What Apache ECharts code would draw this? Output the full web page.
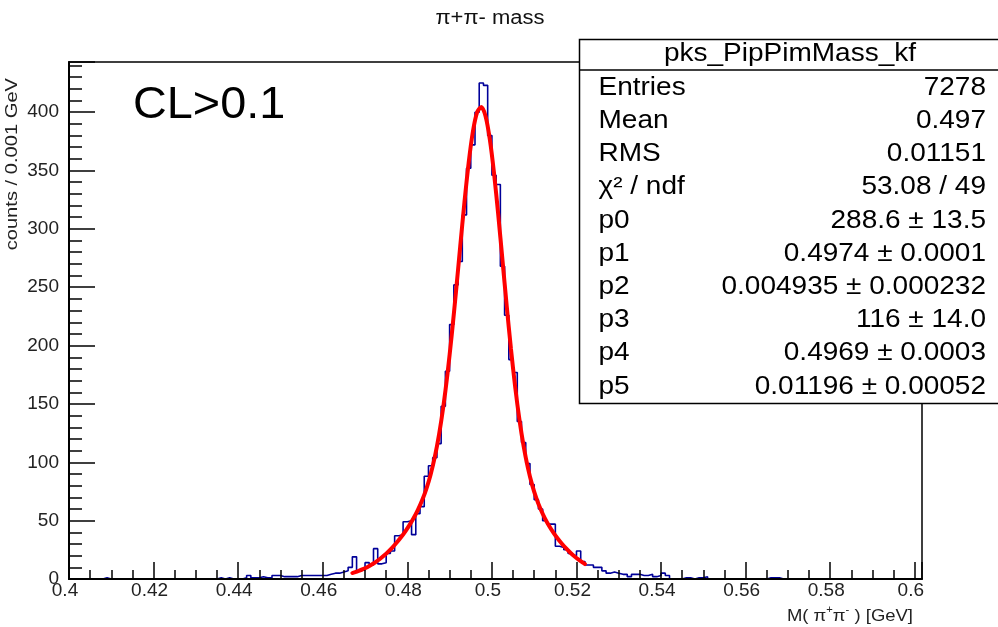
<!DOCTYPE html>
<html><head><meta charset="utf-8">
<script src="https://cdn.jsdelivr.net/npm/echarts@6/dist/echarts.min.js"></script>
<style>html,body{margin:0;padding:0;background:#fff}#c{width:998px;height:627px}</style>
</head><body><div id="c"></div>
<script>
// ---- data ----
const binStart = 0.4;          // GeV, left edge of first bin
const binWidth = 0.001;        // GeV
// histogram counts per 0.001 GeV bin, 0.400 .. 0.600
const counts = [
  0,0,0,0,0,0,0,0,1,0,
  0,0,0,0,0,0,0,0,0,0,
  0,0,0,0,0,0,0,0,0,0,
  0,0,0,0,0,1,0,1,0,0,
  0,1,3,1,1,2,1,1,3,3,
  2,2,2,2,3,3,3,3,3,3,
  3,4,5,5,6,7,10,19,7,8,
  14,12,26,13,14,22,24,37,38,49,
  50,38,56,62,88,97,104,116,148,178,
  218,252,272,312,352,372,400,425,423,380,
  346,338,268,226,188,177,135,117,99,81,
  68,60,50,47,47,28,27,25,22,20,
  24,15,12,12,10,10,7,5,6,5,
  4,4,2,4,4,3,3,4,2,3,
  5,3,0,0,0,1,1,0,1,1,
  2,0,0,0,0,0,0,0,0,0,
  0,0,0,0,0,1,1,1,0,0,
  0,0,0,0,0,0,0,0,0,0,
  0,0,0,0,0,0,0,0,0,0,
  0,0,0,0,0,0,0,0,0,0
];
// fitted curve (red), sampled points
const fitX = [0.467,0.4675,0.4685,0.4695,0.4705,0.4715,0.4725,0.4735,0.4745,0.4755,
  0.4765,0.4775,0.4785,0.4795,0.4805,0.4815,0.4825,0.4835,0.4845,0.4855,
  0.4865,0.4875,0.4885,0.4895,0.4905,0.4915,0.4925,0.4935,0.4945,0.4955,
  0.4965,0.4975,0.4985,0.4995,0.5005,0.5015,0.5025,0.5035,0.5045,0.5055,
  0.5065,0.5075,0.5085,0.5095,0.5105,0.5115,0.5125,0.5135,0.5145,0.5155,
  0.5165,0.5175,0.5185,0.5195,0.5205,0.5215,0.522];
const fitY = [5.10,5.65,6.92,8.41,10.15,12.16,14.48,17.11,20.09,23.42,
  27.12,31.21,35.71,40.65,46.13,52.24,59.21,67.39,77.24,89.41,
  104.65,123.77,147.42,175.93,209.13,245.96,284.71,322.61,356.52,383.21,
  399.78,404.35,396.50,376.89,347.77,312.09,273.14,234.08,197.30,164.62,
  136.78,113.87,95.48,80.88,69.28,59.94,52.22,45.69,40.00,34.97,
  30.45,26.39,22.74,19.46,16.55,13.99,12.83];
const xTickLabels = ['0.4','0.42','0.44','0.46','0.48','0.5','0.52','0.54','0.56','0.58','0.6'];
const yTickLabels = ['0','50','100','150','200','250','300','350','400'];
const statsTitle = 'pks_PipPimMass_kf';
const statsLabels = ['Entries','Mean','RMS','χ² / ndf','p0','p1','p2','p3','p4','p5'];
const statsValues = ['7278','0.497','0.01151','53.08 / 49','288.6 ± 13.5','0.4974 ± 0.0001',
  '0.004935 ± 0.000232','116 ± 14.0','0.4969 ± 0.0003','0.01196 ± 0.00052'];

// ---- build ----
const histPts = counts.map((c, i) => [+(binStart + i * binWidth).toFixed(4), c]);
histPts.push([+(binStart + counts.length * binWidth).toFixed(4), counts[counts.length - 1]]);
const fitPts = fitX.map((x, i) => [x, fitY[i]]);

const FONT = '"Liberation Sans", Arial, sans-serif';
function lab(list) {
  return function (v) {
    for (const s of list) if (Math.abs(parseFloat(s) - v) < 1e-7) return s;
    return '';
  };
}
const graphics = [];
graphics.push({type:'text', x:490, y:18, scaleX:1.1, z:100,
  style:{text:'π+π- mass', x:0, y:0, align:'center', verticalAlign:'middle', font:'20px ' + FONT, fill:'#111'}});
graphics.push({type:'text', x:133, y:106, scaleX:1.04, z:100,
  style:{text:'CL>0.1', x:0, y:0, align:'left', verticalAlign:'middle', font:'45px ' + FONT, fill:'#000'}});
graphics.push({type:'text', x:12, y:78, rotation:Math.PI/2, scaleX:1.22, z:100,
  style:{text:'counts / 0.001 GeV', x:0, y:0, align:'right', verticalAlign:'middle', font:'16.5px ' + FONT, fill:'#222'}});
graphics.push({type:'text', x:913, y:615, scaleX:1.12, z:100,
  style:{text:'{n|M( π}{s|+}{n|π}{s|-}{n| ) [GeV]}', x:0, y:0, align:'right', verticalAlign:'middle',
    rich:{n:{font:'16.5px ' + FONT, fill:'#222', lineHeight:20, verticalAlign:'bottom'},
          s:{font:'10px ' + FONT, fill:'#222', lineHeight:20, verticalAlign:'top'}}}});
// stats box
graphics.push({type:'rect', z:100, shape:{x:579.5, y:39.5, width:440, height:364},
  style:{fill:'#fff', stroke:'#000', lineWidth:1.5}});
graphics.push({type:'line', z:101, shape:{x1:579.5, y1:70, x2:998, y2:70},
  style:{stroke:'#000', lineWidth:1.5}});
graphics.push({type:'text', x:790, y:54, scaleX:1.12, z:102,
  style:{text:statsTitle, x:0, y:0, align:'center', verticalAlign:'middle', font:'25px ' + FONT, fill:'#000'}});
statsLabels.forEach((t, i) => {
  const y = 88 + i * 33.2;
  graphics.push({type:'text', x:598.5, y:y, scaleX:1.12, z:102,
    style:{text:t, x:0, y:0, align:'left', verticalAlign:'middle', font:'25px ' + FONT, fill:'#000'}});
  graphics.push({type:'text', x:986, y:y, scaleX:1.12, z:102,
    style:{text:statsValues[i], x:0, y:0, align:'right', verticalAlign:'middle', font:'25px ' + FONT, fill:'#000'}});
});

const chart = echarts.init(document.getElementById('c'), null, {renderer:'canvas'});
const axisLabelStyle = {fontFamily:'"Liberation Sans", Arial, sans-serif', fontSize:19, color:'#222'};
chart.setOption({
  animation:false,
  backgroundColor:'#fff',
  grid:{left:69, top:62, width:853, height:517, show:true, borderColor:'#000', borderWidth:1.5, backgroundColor:'transparent'},
  xAxis:[
    {type:'value', min:0.4, max:0.6017, interval:0.02, position:'bottom', z:10,
     axisLine:{show:true, lineStyle:{color:'#000', width:2}},
     axisTick:{show:true, inside:true, length:17, lineStyle:{color:'#000', width:1.5}},
     axisLabel:Object.assign({show:true, margin:2, padding:[0,8,0,0], formatter:lab(xTickLabels)}, axisLabelStyle),
     splitLine:{show:false}},
    {type:'value', min:0.4, max:0.6017, interval:0.005, position:'bottom', z:10,
     axisLine:{show:false},
     axisTick:{show:true, inside:true, length:9, lineStyle:{color:'#000', width:1.5}},
     axisLabel:{show:false}, splitLine:{show:false}}
  ],
  yAxis:[
    {type:'value', min:0, max:443, interval:50, position:'left', z:10,
     axisLine:{show:true, lineStyle:{color:'#000', width:2}},
     axisTick:{show:true, inside:true, length:26, lineStyle:{color:'#000', width:1.5}},
     axisLabel:Object.assign({show:true, margin:10, formatter:lab(yTickLabels)}, axisLabelStyle),
     splitLine:{show:false}},
    {type:'value', min:0, max:443, interval:10, position:'left', z:10,
     axisLine:{show:false},
     axisTick:{show:true, inside:true, length:13, lineStyle:{color:'#000', width:1.5}},
     axisLabel:{show:false}, splitLine:{show:false}}
  ],
  series:[
    {type:'line', name:'histogram', data:histPts, step:'end', showSymbol:false, clip:true,
     xAxisIndex:0, yAxisIndex:0, z:3,
     lineStyle:{color:'#000099', width:1.6}},
    {type:'line', name:'fit', data:fitPts, smooth:0.3, showSymbol:false, clip:true,
     xAxisIndex:0, yAxisIndex:0, z:4,
     lineStyle:{color:'#ff0000', width:4, cap:'round'}}
  ],
  graphic:graphics
});
</script>
</body></html>
